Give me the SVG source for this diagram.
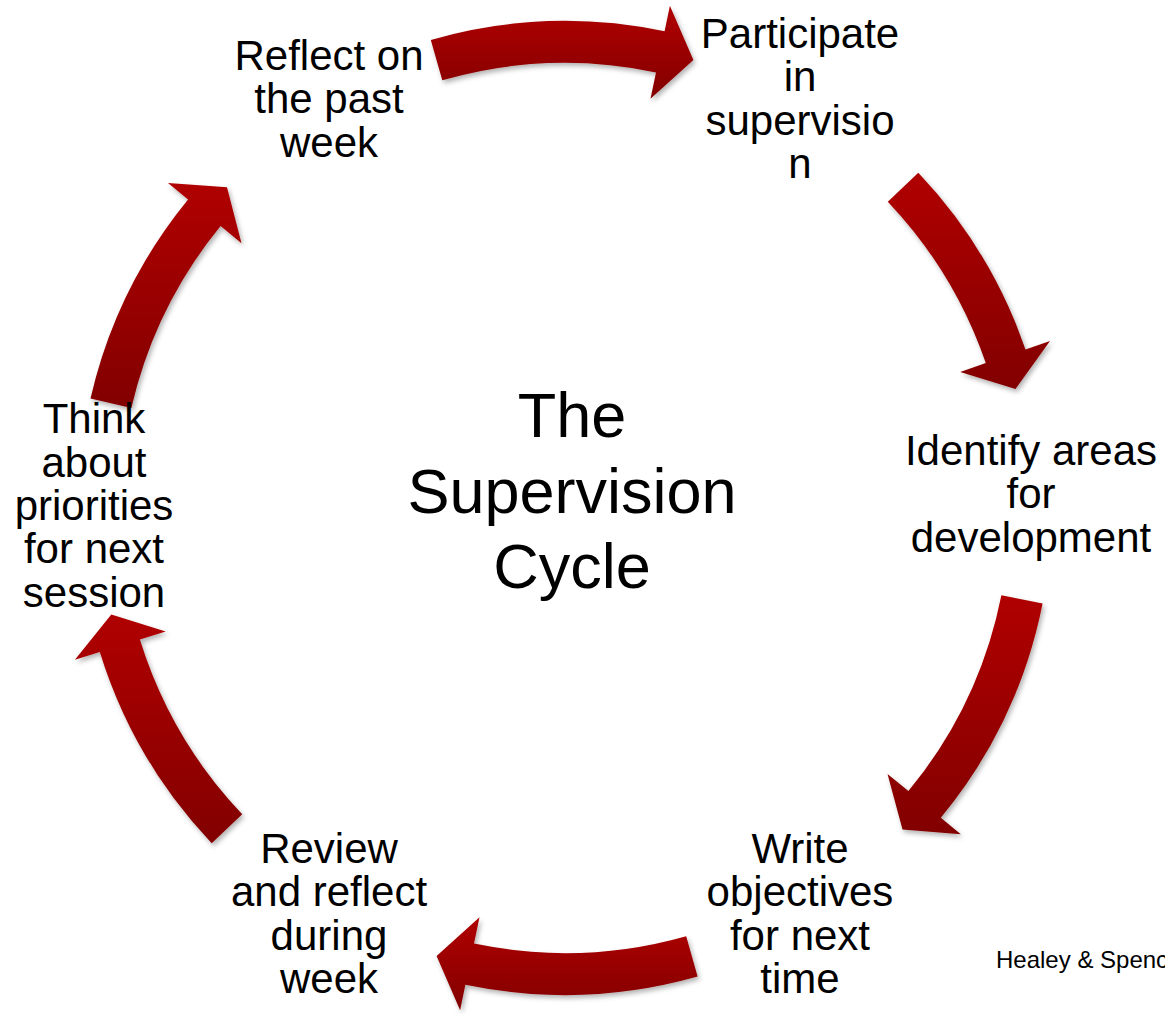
<svg xmlns="http://www.w3.org/2000/svg" width="1165" height="1014" viewBox="0 0 1165 1014">
  <defs>
    <linearGradient id="arrowFill" x1="0" y1="0" x2="0" y2="1">
      <stop offset="0" stop-color="#B00000"/>
      <stop offset="1" stop-color="#820000"/>
    </linearGradient>
    <filter id="softShadow" x="-20%" y="-20%" width="140%" height="140%">
      <feDropShadow dx="2" dy="3" stdDeviation="2.5" flood-color="#000" flood-opacity="0.3"/>
    </filter>
  </defs>
  <style>
    .lbl { font-family: "Liberation Sans", Arial, sans-serif; font-size: 42px; fill: #000; text-anchor: middle; }
    .title { font-family: "Liberation Sans", Arial, sans-serif; font-size: 63px; fill: #000; text-anchor: middle; }
    .credit { font-family: "Liberation Sans", Arial, sans-serif; font-size: 24px; fill: #000; }
    .arrow { fill: url(#arrowFill); filter: url(#softShadow); }
  </style>

  <rect width="1165" height="1014" fill="#fff"/>

  <!-- curved block arrows around the cycle, centre (565,508) -->
  <g id="connectors">
    <path class="arrow" d="M430.8,39.9 A487,487 0 0 1 664.6,31.3 L669.9,5.8 L693.4,60.1 L650.5,98.8 L656.0,72.4 A445,445 0 0 0 442.3,80.2 Z"/>
    <path class="arrow" d="M918.3,172.8 A487,487 0 0 1 1025.5,349.4 L1050.0,341.0 L1015.5,389.0 L960.2,371.9 L985.8,363.1 A445,445 0 0 0 887.8,201.7 Z"/>
    <path class="arrow" d="M1042.6,603.4 A487,487 0 0 1 940.8,817.8 L960.8,834.3 L902.5,829.4 L887.5,773.9 L908.4,791.1 A445,445 0 0 0 1001.4,595.2 Z"/>
    <path class="arrow" d="M697.6,976.6 A487,487 0 0 1 465.4,984.7 L460.1,1010.2 L436.6,955.9 L479.5,917.2 L474.0,943.6 A445,445 0 0 0 686.2,936.2 Z"/>
    <path class="arrow" d="M211.7,843.2 A487,487 0 0 1 99.8,652.0 L74.9,659.7 L111.3,614.4 L165.7,631.6 L139.9,639.6 A445,445 0 0 0 242.2,814.3 Z"/>
    <path class="arrow" d="M90.5,398.4 A487,487 0 0 1 188.1,199.5 L168.0,183.1 L227.0,187.2 L241.5,243.2 L220.6,226.1 A445,445 0 0 0 131.4,407.9 Z"/>
  </g>

  <g id="title">
    <text class="title" x="572" y="437">The</text>
    <text class="title" x="572" y="513">Supervision</text>
    <text class="title" x="572" y="588">Cycle</text>
  </g>

  <g id="node-reflect">
    <text class="lbl" x="329" y="70">Reflect on</text>
    <text class="lbl" x="329" y="113">the past</text>
    <text class="lbl" x="329" y="157">week</text>
  </g>

  <g id="node-participate">
    <text class="lbl" x="800" y="48">Participate</text>
    <text class="lbl" x="800" y="91">in</text>
    <text class="lbl" x="800" y="135">supervisio</text>
    <text class="lbl" x="800" y="178">n</text>
  </g>

  <g id="node-identify">
    <text class="lbl" x="1031" y="465">Identify areas</text>
    <text class="lbl" x="1031" y="508">for</text>
    <text class="lbl" x="1031" y="552">development</text>
  </g>

  <g id="node-write">
    <text class="lbl" x="800" y="863">Write</text>
    <text class="lbl" x="800" y="906">objectives</text>
    <text class="lbl" x="800" y="950">for next</text>
    <text class="lbl" x="800" y="993">time</text>
  </g>

  <g id="node-review">
    <text class="lbl" x="329" y="863">Review</text>
    <text class="lbl" x="329" y="906">and reflect</text>
    <text class="lbl" x="329" y="950">during</text>
    <text class="lbl" x="329" y="993">week</text>
  </g>

  <g id="node-think">
    <text class="lbl" x="94" y="433">Think</text>
    <text class="lbl" x="94" y="477">about</text>
    <text class="lbl" x="94" y="520">priorities</text>
    <text class="lbl" x="94" y="563">for next</text>
    <text class="lbl" x="94" y="607">session</text>
  </g>

  <g id="credit">
    <text class="credit" x="996" y="968">Healey &amp; Spenc</text>
  </g>
</svg>
